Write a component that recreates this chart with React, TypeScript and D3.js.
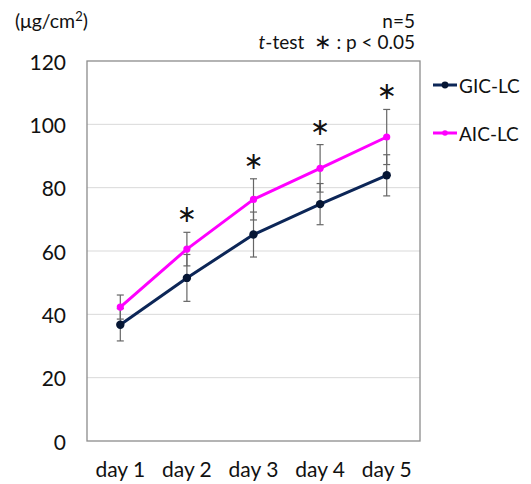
import React from "react";
import * as d3 from "d3";

const days = ["day 1", "day 2", "day 3", "day 4", "day 5"];
const gicMean = [36.7, 51.5, 65.2, 74.8, 83.9];
const gicErr = [5.1, 7.4, 7.1, 6.5, 6.5];
const aicMean = [42.3, 60.6, 76.3, 86.1, 96.0];
const aicErr = [3.8, 5.3, 6.5, 7.5, 8.7];
const significant = [false, true, true, true, true];
const yTicks = [0, 20, 40, 60, 80, 100, 120];

const FONT = "Lato, 'Open Sans', sans-serif";

export default function App() {
  const W = 531, H = 484;
  const left = 87, right = 420, top = 61, bottom = 441;
  const x = d3.scaleBand<string>().domain(days).range([left, right]);
  const cx = (d: string) => (x(d) as number) + x.bandwidth() / 2;
  const y = d3.scaleLinear().domain([0, 120]).range([bottom, top]);
  const line = d3.line<number>().x((_, i) => cx(days[i])).y((v) => y(v));

  const series = [
    { name: "GIC-LC", mean: gicMean, err: gicErr, color: "#0c2657", dot: "#061634", r: 4.2 },
    { name: "AIC-LC", mean: aicMean, err: aicErr, color: "#ff00ff", dot: "#ff00ff", r: 3.6 },
  ];

  return (
    <svg width={W} height={H} style={{ position: "absolute", left: 0, top: 0 }}>
      <rect x={0} y={0} width={W} height={H} fill="#fff" />
      {yTicks.slice(1, -1).map((t) => (
        <line key={t} x1={left} x2={right} y1={y(t)} y2={y(t)} stroke="#d9d9d9" strokeWidth={1} />
      ))}
      <rect x={left} y={top} width={right - left} height={bottom - top} fill="none" stroke="#8c8c8c" strokeWidth={1.3} />
      {yTicks.map((t) => (
        <text key={t} x={66} y={y(t)} textAnchor="end" dominantBaseline="central" fontFamily={FONT} fontSize={21} fill="#111">
          {t}
        </text>
      ))}
      {days.map((d) => (
        <text key={d} x={cx(d)} y={477} textAnchor="middle" fontFamily={FONT} fontSize={21} fill="#111">
          {d}
        </text>
      ))}
      {series.map((s) =>
        s.mean.map((m, i) => {
          const xx = cx(days[i]);
          return (
            <g key={s.name + i} stroke="#666" strokeWidth={1.2}>
              <line x1={xx} x2={xx} y1={y(m - s.err[i])} y2={y(m + s.err[i])} />
              <line x1={xx - 3.5} x2={xx + 3.5} y1={y(m - s.err[i])} y2={y(m - s.err[i])} />
              <line x1={xx - 3.5} x2={xx + 3.5} y1={y(m + s.err[i])} y2={y(m + s.err[i])} />
            </g>
          );
        })
      )}
      {series.map((s) => (
        <g key={s.name}>
          <path d={line(s.mean) as string} fill="none" stroke={s.color} strokeWidth={3} strokeLinejoin="round" />
          {s.mean.map((m, i) => (
            <circle key={i} cx={cx(days[i])} cy={y(m)} r={s.r} fill={s.dot} />
          ))}
        </g>
      ))}
      {days.map((d, i) =>
        significant[i] ? (
          <text key={d} x={cx(d)} y={y(Math.max(gicMean[i] + gicErr[i], aicMean[i] + aicErr[i])) - 18} textAnchor="middle" dominantBaseline="central" fontFamily="'DejaVu Sans', sans-serif" fontSize={24} fill="#111">
            ∗
          </text>
        ) : null
      )}
      {series.map((s, k) => {
        const ly = 85 + k * 48;
        return (
          <g key={s.name}>
            <line x1={433} x2={457} y1={ly} y2={ly} stroke={s.color} strokeWidth={3} />
            <circle cx={445} cy={ly} r={s.r - 0.8} fill={s.dot} />
            <text x={459} y={ly} dominantBaseline="central" fontFamily={FONT} fontSize={19} fill="#111">
              {s.name}
            </text>
          </g>
        );
      })}
      <text x={15} y={28} fontFamily={FONT} fontSize={19.5} fill="#111">
        (μg/cm<tspan fontSize={13} dy={-7}>2</tspan><tspan dy={7}>)</tspan>
      </text>
      <text x={415} y={28} textAnchor="end" fontFamily={FONT} fontSize={19} fill="#111">n=5</text>
      <text x={415} y={49} textAnchor="end" fontFamily={FONT} fontSize={19} fill="#111">
        <tspan fontStyle="italic">t</tspan>-test{"\u00a0\u00a0"}<tspan fontFamily="'DejaVu Sans', sans-serif" fontSize={21}>∗</tspan> : p &lt; 0.05
      </text>
    </svg>
  );
}
